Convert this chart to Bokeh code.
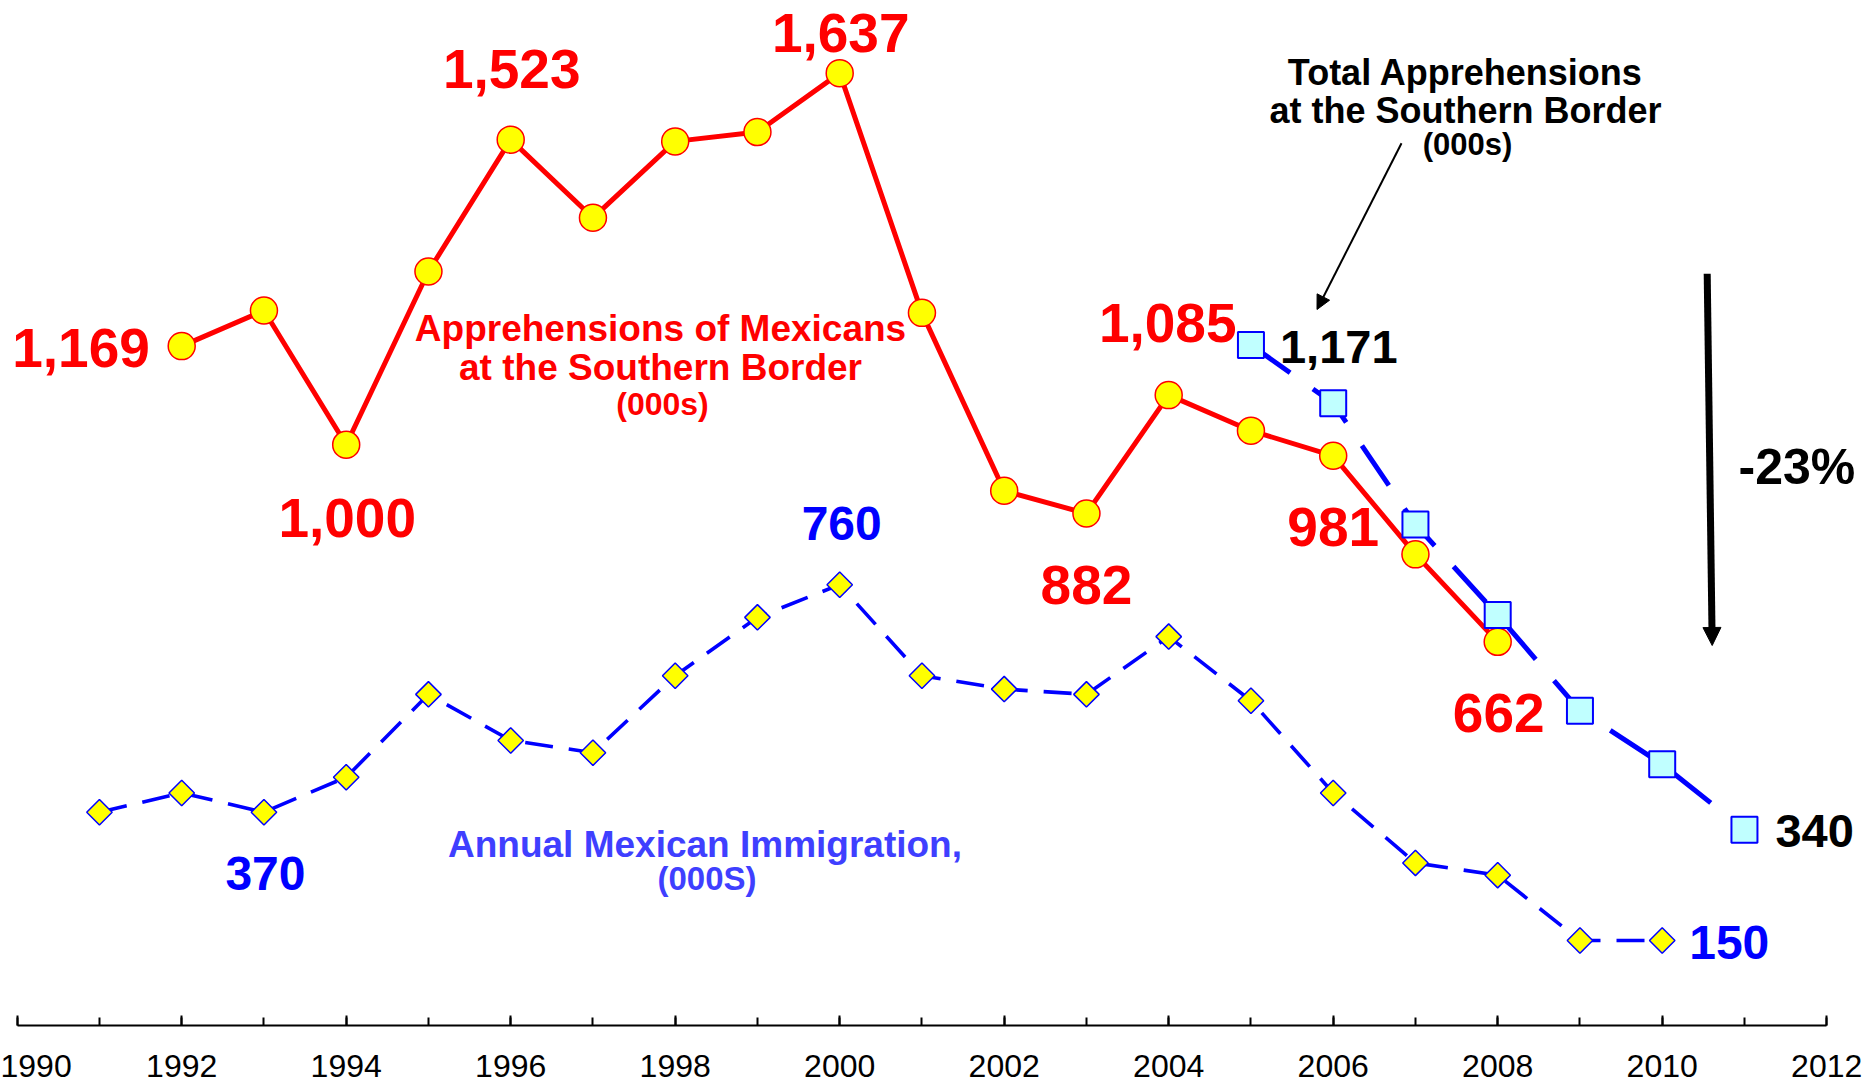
import math
from bokeh.plotting import figure
from bokeh.models import (ColumnDataSource, Range1d, LinearAxis, SingleIntervalTicker,
                          Arrow, NormalHead, Label)
from bokeh.core.properties import value
from bokeh.embed import file_html
from bokeh.resources import INLINE

# ---------------- data (thousands) ----------------
mex_years = list(range(1992, 2009))
mex_apprehensions = [1169, 1230, 1000, 1297, 1523, 1389, 1520, 1536, 1637,
                     1226, 921, 882, 1085, 1024, 981, 812, 662]

total_years = list(range(2005, 2012))
total_apprehensions = [1171, 1071, 863, 708, 544, 452, 340]

imm_years = list(range(1991, 2011))
mex_immigration = [370, 403, 370, 430, 572, 493, 472, 604, 704, 760,
                   604, 581, 572, 671, 561, 403, 283, 262, 150, 150]

red_label_years = [1992, 1994, 1996, 2000, 2003, 2004, 2006, 2008]
blue_label_years = [1993, 2000]
blue_end_label_years = [2010]
black_label_years = [2005, 2011]

# ---------------- layout ----------------
W, H = 1868, 1086
PX_PER_YEAR = 82.25
X1990_PX = 16.7         # px of year 1990
PX_PER_K = 0.5833
ZERO_PX = 1027.5        # px of value 0

def fx(px):
    return 1990 + (px - X1990_PX) / PX_PER_YEAR

def fy(py):
    return (ZERO_PX - py) / PX_PER_K

x_range = Range1d(fx(0), fx(W))
y_range = Range1d(fy(H), fy(0))

p = figure(width=W, height=H, x_range=x_range, y_range=y_range,
           x_axis_type=None, y_axis_type=None, toolbar_location=None,
           output_backend="svg", min_border=0)
p.min_border_left = p.min_border_right = p.min_border_top = p.min_border_bottom = 0
p.outline_line_color = None
p.background_fill_color = "white"

FONT = "Liberation Sans"
RED = "#FF0000"
BLUE = "#0000FF"
YELLOW = "#FFFF00"

# ---------------- axis ----------------
ax = LinearAxis(fixed_location=fy(1025), bounds=(1990, 2012),
                ticker=SingleIntervalTicker(interval=2, num_minor_ticks=2))
ax.axis_line_width = 2
ax.axis_line_color = "black"
ax.major_tick_in = 10
ax.major_tick_out = 0
ax.minor_tick_in = 8
ax.minor_tick_out = 0
ax.major_tick_line_width = 2
ax.minor_tick_line_width = 2
ax.major_tick_line_color = "black"
ax.minor_tick_line_color = "black"
ax.major_label_text_font = FONT
ax.major_label_text_font_size = "32px"
ax.major_label_text_color = "black"
ax.major_label_standoff = 29
p.add_layout(ax, "below")

# ---------------- series ----------------
imm_src = ColumnDataSource(dict(x=imm_years, y=mex_immigration))
p.line("x", "y", source=imm_src, line_color=BLUE, line_width=3.6, line_dash="28 16")
p.scatter("x", "y", source=imm_src, marker="square", angle=math.pi / 4, size=18,
          fill_color=YELLOW, line_color=BLUE, line_width=1.5)

mex_src = ColumnDataSource(dict(x=mex_years, y=mex_apprehensions))
p.line("x", "y", source=mex_src, line_color=RED, line_width=5)
p.scatter("x", "y", source=mex_src, marker="circle", size=27,
          fill_color=YELLOW, line_color=RED, line_width=1.5)

tot_src = ColumnDataSource(dict(x=total_years, y=total_apprehensions))
p.line("x", "y", source=tot_src, line_color=BLUE, line_width=5, line_dash="48 28")
p.scatter("x", "y", source=tot_src, marker="square", size=26,
          fill_color="#C0FFFF", line_color=BLUE, line_width=2)

# ---------------- value labels ----------------
def pick(years, xs, ys):
    return [ys[xs.index(y)] for y in years]

red_vals = pick(red_label_years, mex_years, mex_apprehensions)
red_src = ColumnDataSource(dict(
    x=red_label_years, y=red_vals, text=[f"{v:,}" for v in red_vals],
    xo=[-100.7, 1, 1, 1, 0, -1, 0, 1],
    yo=[1.5, 73, -71, -40, 71, -72, 71, 71]))
p.text("x", "y", text="text", source=red_src, x_offset="xo", y_offset="yo",
       text_font=value(FONT), text_font_style="bold", text_font_size="55px",
       text_color=RED, text_align="center", text_baseline="alphabetic")

blue_vals = pick(blue_label_years, imm_years, mex_immigration)
blue_src = ColumnDataSource(dict(
    x=blue_label_years, y=blue_vals, text=[f"{v:,}" for v in blue_vals],
    xo=[1.5, 2], yo=[61, -61]))
p.text("x", "y", text="text", source=blue_src, x_offset="xo", y_offset="yo",
       text_font=value(FONT), text_font_style="bold", text_font_size="48px",
       text_color=BLUE, text_align="center", text_baseline="alphabetic")

blue_end_vals = pick(blue_end_label_years, imm_years, mex_immigration)
blue_end_src = ColumnDataSource(dict(
    x=blue_end_label_years, y=blue_end_vals, text=[f"{v:,}" for v in blue_end_vals]))
p.text("x", "y", text="text", source=blue_end_src, x_offset=27, y_offset=2,
       text_font=value(FONT), text_font_style="bold", text_font_size="48px",
       text_color=BLUE, text_align="left", text_baseline="alphabetic")

black_vals = pick(black_label_years, total_years, total_apprehensions)
black_src = ColumnDataSource(dict(
    x=black_label_years, y=black_vals, text=[f"{v:,}" for v in black_vals],
    xo=[29, 31], yo=[2.5, 1.5]))
p.text("x", "y", text="text", source=black_src, x_offset="xo", y_offset="yo",
       text_font=value(FONT), text_font_style="bold", text_font_size="47px",
       text_color="black", text_align="left", text_baseline="alphabetic")

# ---------------- series captions ----------------
def caption(txt, px, py, size, color, align="center"):
    p.add_layout(Label(x=fx(px), y=fy(py - 0.36 * size), text=txt, text_font=FONT,
                       text_font_style="bold", text_font_size=f"{size}px",
                       text_color=color, text_align=align,
                       text_baseline="alphabetic"))

caption("Apprehensions of Mexicans", 660, 341.7, 37, RED)
caption("at the Southern Border", 660, 380, 37, RED)
caption("(000s)", 662, 415, 32, RED)

caption("Total Apprehensions", 1465, 85, 36, "black")
caption("at the Southern Border", 1465, 123, 36, "black")
caption("(000s)", 1467, 155.5, 31, "black")

caption("Annual Mexican Immigration,", 704.5, 857, 37, "#3F3FFF")
caption("(000S)", 706.5, 890, 33, "#3F3FFF")

caption("-23%", 1738, 484, 50, "black", align="left")

# ---------------- arrows ----------------
p.add_layout(Arrow(end=NormalHead(size=14, fill_color="black", line_color="black", line_width=1),
                   x_start=fx(1401), y_start=fy(142.7), x_end=fx(1316.5), y_end=fy(309),
                   line_color="black", line_width=2))
p.add_layout(Arrow(end=NormalHead(size=18, fill_color="black", line_color="black", line_width=1),
                   x_start=fx(1706.7), y_start=fy(273.3), x_end=fx(1711.7), y_end=fy(645),
                   line_color="black", line_width=7))

open("out.html", "w").write(file_html(p, INLINE))
